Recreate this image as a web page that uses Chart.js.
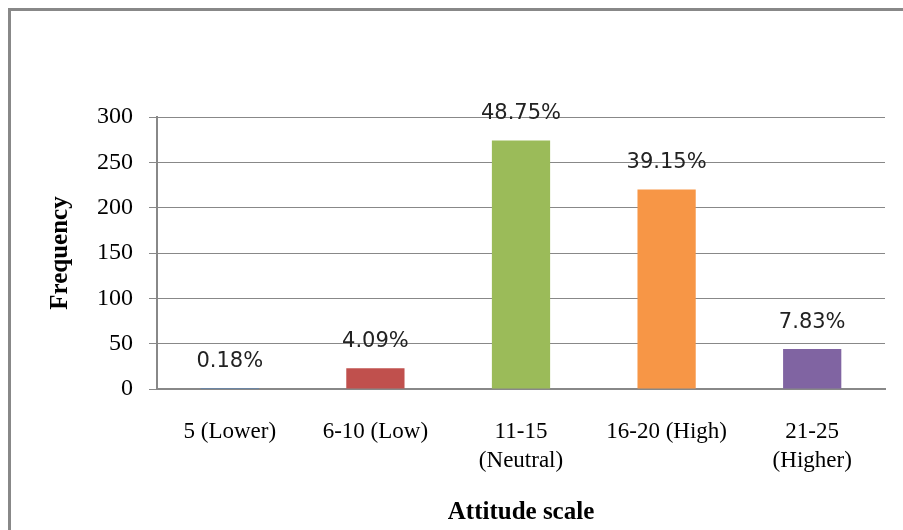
<!DOCTYPE html>
<html>
<head>
<meta charset="utf-8">
<script src="https://cdn.jsdelivr.net/npm/chart.js@4/dist/chart.umd.min.js"></script>
<style>
  html, body { margin: 0; padding: 0; background: #ffffff; }
  #wrap { position: relative; width: 903px; height: 530px; }
</style>
</head>
<body>
<div id="wrap"><canvas id="c" width="903" height="530"></canvas></div>
<script>
const categories = [["5 (Lower)"], ["6-10 (Low)"], ["11-15", "(Neutral)"], ["16-20 (High)"], ["21-25", "(Higher)"]];
const frequencies = [1, 23, 274, 220, 44];
const percentLabels = ["0.18%", "4.09%", "48.75%", "39.15%", "7.83%"];
const barColors = ["#4F81BD", "#C0504D", "#9BBB59", "#F79646", "#8064A2"];
const yTicks = [0, 50, 100, 150, 200, 250, 300];

const frame = {
  id: 'frame',
  beforeDraw(chart) {
    const ctx = chart.ctx;
    ctx.save();
    ctx.fillStyle = '#ffffff';
    ctx.fillRect(0, 0, chart.width, chart.height);
    ctx.strokeStyle = '#888888';
    ctx.lineWidth = 3;
    ctx.strokeRect(9.5, 9.5, 2000, 2000);
    ctx.restore();
  }
};

const dataLabels = {
  id: 'dataLabels',
  afterDatasetsDraw(chart) {
    const ctx = chart.ctx;
    const meta = chart.getDatasetMeta(0);
    ctx.save();
    ctx.font = '21px "DejaVu Sans"';
    ctx.fillStyle = '#222222';
    ctx.textAlign = 'center';
    ctx.textBaseline = 'middle';
    meta.data.forEach((bar, i) => {
      ctx.fillText(percentLabels[i], bar.x, bar.y - 27);
    });
    ctx.restore();
  }
};

new Chart(document.getElementById('c'), {
  type: 'bar',
  data: {
    labels: categories,
    datasets: [{
      data: frequencies,
      backgroundColor: barColors,
      borderWidth: 0,
      categoryPercentage: 1,
      barPercentage: 0.4
    }]
  },
  options: {
    responsive: false,
    animation: false,
    devicePixelRatio: 1,
    layout: { padding: { top: 117, right: 18, bottom: 0, left: 0 } },
    plugins: { legend: { display: false }, tooltip: { enabled: false } },
    scales: {
      x: {
        z: 1,
        grid: { display: false, drawTicks: false },
        border: { display: true, color: '#888888', width: 2 },
        ticks: {
          color: '#000000',
          padding: 28,
          font: { family: '"Liberation Serif"', size: 23, lineHeight: 1.26 },
          maxRotation: 0,
          autoSkip: false
        },
        title: {
          display: true,
          text: 'Attitude scale',
          color: '#000000',
          font: { family: '"Liberation Serif"', size: 25, weight: 'bold' },
          padding: { top: 0, bottom: 2 }
        },
        afterFit(scale) { scale.height = 141; }
      },
      y: {
        min: 0,
        max: 300,
        afterBuildTicks(scale) { scale.ticks = yTicks.map(v => ({ value: v })); },
        grid: { color: '#888888', lineWidth: 1, tickLength: 8, drawTicks: true },
        border: { display: true, color: '#888888', width: 2 },
        ticks: {
          color: '#000000',
          padding: 16,
          font: { family: '"Liberation Serif"', size: 24 }
        },
        title: {
          display: true,
          text: 'Frequency',
          color: '#000000',
          font: { family: '"Liberation Serif"', size: 25, weight: 'bold' },
          padding: { top: 46, bottom: 0 }
        },
        afterFit(scale) { scale.width = 157; }
      }
    }
  },
  plugins: [frame, dataLabels]
});
</script>
</body>
</html>
